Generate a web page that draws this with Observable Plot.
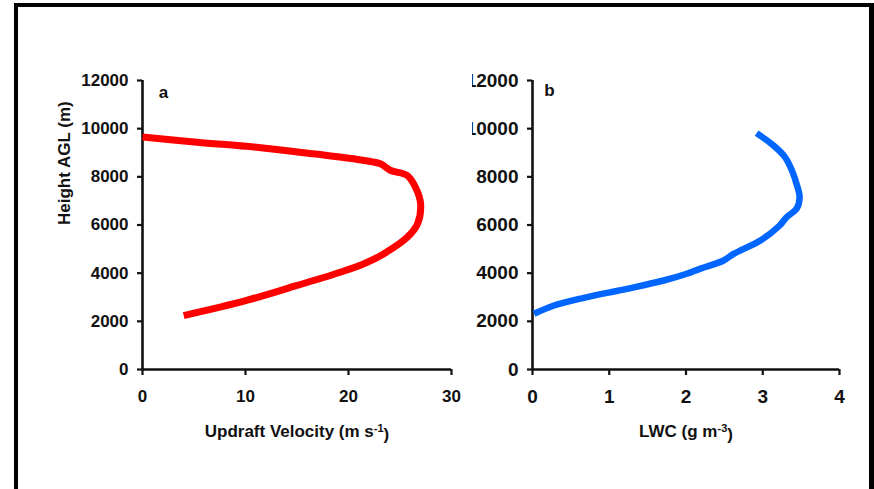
<!DOCTYPE html>
<html>
<head>
<meta charset="utf-8">
<script src="https://cdn.jsdelivr.net/npm/d3@7"></script>
<script src="https://cdn.jsdelivr.net/npm/@observablehq/plot@0.6"></script>
<style>
  html, body { margin: 0; padding: 0; background: #fff; }
  body { width: 874px; height: 489px; position: relative; overflow: hidden; font-family: "Liberation Sans", Arial, sans-serif; }
  #frame { position: absolute; left: 14px; top: 3px; width: 851px; height: 483px;
           border-left: 4px solid #000; border-top: 4px solid #000; border-right: 5px solid #000; border-bottom: 1px solid #999; }
  #pa { position: absolute; left: 0; top: 0; }
  #pb { position: absolute; left: 472px; top: 0; }
  #pa svg, #pb svg { overflow: hidden; background: transparent; }
  #pb svg { background: #fff; }
</style>
</head>
<body>
<div id="frame"></div>
<div id="pa"></div>
<div id="pb"></div>
<script>
// Panel a: updraft velocity profile
const updraftVelocity = [0, 5.3, 11.7, 16.6, 21.5, 23.1, 24.1, 25.7, 26.5, 27.0, 26.7, 25.7, 23.4, 21.5, 19.2, 15.0, 10.1, 4.0];
const updraftHeight   = [9650, 9440, 9200, 8955, 8680, 8540, 8265, 8056, 7570, 6880, 6050, 5490, 4800, 4390, 4040, 3490, 2870, 2240];
// Panel b: liquid water content profile
const lwcValues = [2.92, 3.14, 3.29, 3.38, 3.44, 3.48, 3.44, 3.31, 3.22, 2.98, 2.62, 2.49, 2.18, 2.01, 1.71, 1.23, 0.67, 0.28, 0.02];
const lwcHeight = [9815, 9300, 8820, 8265, 7710, 7155, 6670, 6325, 5980, 5380, 4800, 4527, 4180, 3974, 3696, 3350, 2977, 2658, 2313];

const heightTicks = [0, 2000, 4000, 6000, 8000, 10000, 12000];
const velocityTicks = [0, 10, 20, 30];
const lwcTicks = [0, 1, 2, 3, 4];
const yTitle = "Height AGL (m)";
const xTitleA = "Updraft Velocity (m s-1)";
const xTitleB = "LWC (g m-3)";
const panelLabels = ["a", "b"];

const dataA = updraftVelocity.map((v, i) => ({v, h: updraftHeight[i]}));
const dataB = lwcValues.map((v, i) => ({v, h: lwcHeight[i]}));

const baseStyle = {fontFamily: "Liberation Sans, Arial, sans-serif", fontSize: "17px", fontWeight: "bold", color: "#111", background: "transparent"};

function panel({data, xDomain, xTicks, color, width, marginLeft, marginRight, title, letter, letterDx, letterDy, strokeWidth, withYTitle, tickFont}) {
  const marks = [
    Plot.axisY({ticks: heightTicks, tickSize: 5, tickPadding: 9, tickFormat: d => String(d), label: null, strokeWidth: 2.2, fontSize: tickFont}),
    Plot.axisX({ticks: xTicks, tickSize: 6, tickPadding: 14, tickFormat: d => String(d), label: null, strokeWidth: 2.2, fontSize: tickFont}),
    Plot.ruleX([xDomain[0]], {y1: 0, y2: 12000, strokeWidth: 2.6}),
    Plot.ruleY([0], {x1: xDomain[0], x2: xDomain[1], strokeWidth: 2.6}),
    Plot.line(data, {x: "v", y: "h", stroke: color, strokeWidth, strokeLinecap: "butt", strokeLinejoin: "round", curve: "catmull-rom"}),
    Plot.text([letter], {frameAnchor: "top-left", dx: letterDx, dy: letterDy, text: d => d, fontSize: 17, fontWeight: "bold", textAnchor: "middle", lineAnchor: "middle"}),
    Plot.text([title], {frameAnchor: "bottom", dy: 62, text: d => d, fontSize: 17, fontWeight: "bold", lineAnchor: "middle"})
  ];
  if (withYTitle) {
    marks.push(Plot.text([yTitle], {frameAnchor: "left", dx: -78, rotate: -90, text: d => d, fontSize: 17, fontWeight: "bold", lineAnchor: "middle"}));
  }
  return Plot.plot({
    width, height: 489,
    marginLeft, marginRight, marginTop: 80, marginBottom: 120,
    x: {domain: xDomain, axis: null},
    y: {domain: [0, 12000], axis: null},
    style: baseStyle,
    marks
  });
}

function supTitle(svg) {
  d3.select(svg).selectAll("g[aria-label=text] text").each(function() {
    const t = this.textContent;
    const m = t.match(/^(.*?)(-\d)\)$/);
    if (m) {
      const sel = d3.select(this);
      sel.text(null);
      sel.append("tspan").text(m[1]);
      sel.append("tspan").attr("dy", "-0.45em").attr("font-size", "11px").text(m[2]);
      sel.append("tspan").attr("dy", "0.45em").text(")");
    }
  });
}

const svgA = panel({data: dataA, xDomain: [0, 30], xTicks: velocityTicks, color: "#ff0000", width: 472,
  marginLeft: 142, marginRight: 21, title: xTitleA, letter: panelLabels[0], letterDx: 21, letterDy: 12, strokeWidth: 7, withYTitle: true, tickFont: 17});
supTitle(svgA);
document.getElementById("pa").appendChild(svgA);

const svgB = panel({data: dataB, xDomain: [0, 4], xTicks: lwcTicks, color: "#0066ff", width: 395,
  marginLeft: 60, marginRight: 28, title: xTitleB, letter: panelLabels[1], letterDx: 17, letterDy: 10, strokeWidth: 6.5, withYTitle: false, tickFont: 19});
supTitle(svgB);
document.getElementById("pb").appendChild(svgB);
</script>
</body>
</html>
